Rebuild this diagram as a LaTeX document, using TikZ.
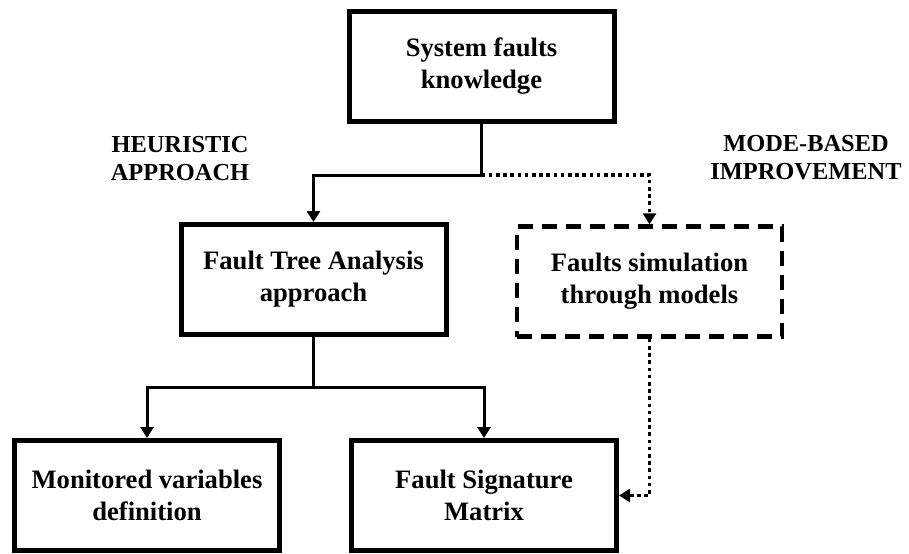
\documentclass[tikz,border=0pt]{standalone}
\usepackage{fontspec}
\setmainfont{Liberation Serif}
\usetikzlibrary{arrows.meta}
\usetikzlibrary{positioning}

\begin{document}
\begin{tikzpicture}[x=0.5pt,y=-0.5pt,
    every node/.style={font=\bfseries\fontsize{13.3}{16}\selectfont, align=center},
    box/.style={draw, line width=2.5pt, minimum width=132.5pt, minimum height=55pt, inner sep=0pt},
    dashbox/.style={box, line width=2.2pt, dash pattern=on 7.5pt off 4.5pt},
    sidelabel/.style={font=\bfseries\fontsize{12.2}{14}\selectfont},
    arr/.style={line width=1.5pt, -{Triangle[length=5.5pt,width=6.5pt]}},
    dotarr/.style={line width=1.8pt, dash pattern=on 1.8pt off 1.8pt, -{Triangle[length=5.5pt,width=6.5pt]}}]
    \useasboundingbox (0,0) rectangle (909,553);

    % draw boxes
    \node[box] (sys) at (481.5,66) {System faults\\knowledge};
    \node[box] (fta) at (313.5,279.5) {Fault Tree Analysis\\approach};
    \node[dashbox] (sim) at (649.5,281.5) {Faults simulation\\through models};
    \node[box] (mon) at (147,495.5) {Monitored variables\\definition};
    \node[box] (fsm) at (484,495.5) {Fault Signature\\Matrix};

    % side labels
    \node[sidelabel] (heur) at (180,159) {HEURISTIC\\APPROACH};
    \node[sidelabel] (mode) at (806,158) {MODE-BASED\\IMPROVEMENT};

    % draw connectors
    \coordinate (split1) at (sys.south |- 0,175);
    \coordinate (split2) at (fta.south |- 0,387);
    \draw[line width=1.5pt] (sys.south) -- (split1);
    \draw[arr] (split1) -| (fta.north);
    \draw[dotarr] (split1) -| (sim.north);
    \draw[line width=1.5pt] (fta.south) -- (split2);
    \draw[arr] (split2) -| (mon.north);
    \draw[arr] (split2) -| (fsm.north);
    \draw[dotarr] (sim.south) |- (fsm.east);
\end{tikzpicture}
\end{document}
